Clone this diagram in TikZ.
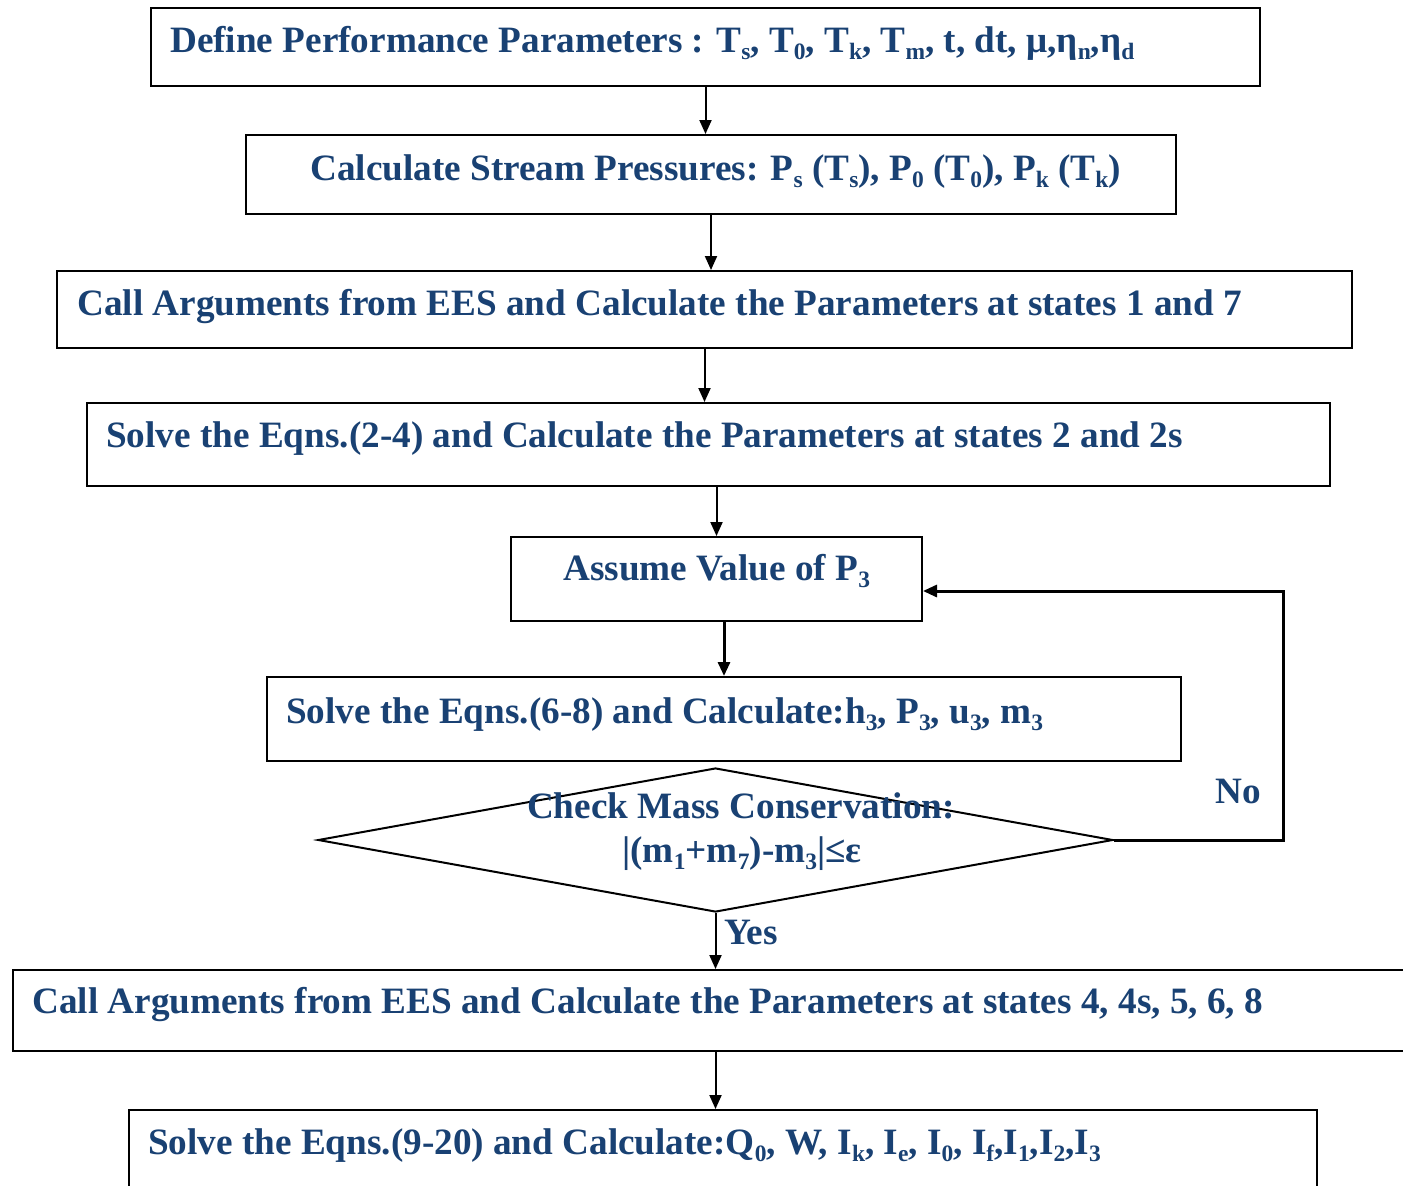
\documentclass[tikz,border=0pt]{standalone}
\usepackage{fontspec}
\setmainfont{Liberation Serif}
\usetikzlibrary{shapes.geometric,arrows.meta}
\definecolor{txtblue}{RGB}{25,65,115}
\newcommand\sbs[1]{\raisebox{-7pt}{\fontsize{23.5}{24}\selectfont #1}}
\begin{document}
\begin{tikzpicture}[x=1pt,y=-1pt,
  box/.style={draw=black, line width=2pt, rectangle, inner sep=0pt, anchor=north west},
  txt/.style={text=txtblue, font=\fontsize{37.2}{40}\selectfont\bfseries, inner sep=0pt, anchor=base west},
  arr/.style={draw=black, line width=2pt, -{Triangle[length=14pt,width=12pt]}}]
\clip (0,0) rectangle (1403,1186);
\fill[white] (0,0) rectangle (1403,1186);
% boxes
\node[box, minimum width=1109pt, minimum height=78pt] (b1) at (150,7) {};
\node[box, minimum width=930pt, minimum height=79pt] (b2) at (245,134) {};
\node[box, minimum width=1295pt, minimum height=77pt] (b3) at (56,270) {};
\node[box, minimum width=1243pt, minimum height=83pt] (b4) at (86,402) {};
\node[box, minimum width=411pt, minimum height=84pt] (b5) at (510,536) {};
\node[box, minimum width=914pt, minimum height=84pt] (b6) at (266,676) {};
\node[draw=black, line width=2pt, diamond, inner sep=0pt, minimum width=795pt, minimum height=144pt] (d) at (715.5,840) {};
\node[box, minimum width=1420pt, minimum height=81pt] (b8) at (12,969) {};
\node[box, minimum width=1188pt, minimum height=100pt] (b9) at (128,1109) {};
% texts
\node[txt] (t1) at (170,52) {Define Performance Parameters : T\sbs{s}, T\sbs{0}, T\sbs{k}, T\sbs{m}, t, dt, μ,η\sbs{n},η\sbs{d}};
\node[txt] (t2) at (310,180) {Calculate Stream Pressures: P\sbs{s} (T\sbs{s}), P\sbs{0} (T\sbs{0}), P\sbs{k} (T\sbs{k})};
\node[txt] (t3) at (77,315) {Call Arguments from EES and Calculate the Parameters at states 1 and 7};
\node[txt] (t4) at (106,447) {Solve the Eqns.(2-4) and Calculate the Parameters at states 2 and 2s};
\node[txt] (t5) at (563,580) {Assume Value of P\sbs{3}};
\node[txt] (t6) at (286,723) {Solve the Eqns.(6-8) and Calculate:h\sbs{3}, P\sbs{3}, u\sbs{3}, m\sbs{3}};
\node[txt, anchor=base] (td1) at (741,818) {Check Mass Conservation:};
\node[txt, anchor=base] (td2) at (742,862) {|(m\sbs{1}+m\sbs{7})-m\sbs{3}|≤ε};
\node[txt] (ty) at (724,944) {Yes};
\node[txt] (tn) at (1215,803) {No};
\node[txt] (t8) at (32,1013) {Call Arguments from EES and Calculate the Parameters at states 4, 4s, 5, 6, 8};
\node[txt] (t9) at (148,1154) {Solve the Eqns.(9-20) and Calculate:Q\sbs{0}, W, I\sbs{k}, I\sbs{e}, I\sbs{0}, I\sbs{f},I\sbs{1},I\sbs{2},I\sbs{3}};
% connectors
\draw[arr] (b1.south) -- (b1.south |- b2.north);
\draw[arr] (b2.south) -- (b2.south |- b3.north);
\draw[arr] (b3.south) -- (b3.south |- b4.north);
\draw[arr] (b5.north |- b4.south) -- (b5.north);
\draw[arr, line width=3pt] (b6.north |- b5.south) -- (b6.north);
\draw[arr] (d.south) -- (d.south |- b8.north);
\draw[arr] (d.south |- b8.south) -- (d.south |- b9.north);
\coordinate (nc) at (1283,591);
\draw[arr, line width=3pt] (d.east) -| (nc) -- (nc -| b5.east);
\end{tikzpicture}
\end{document}
